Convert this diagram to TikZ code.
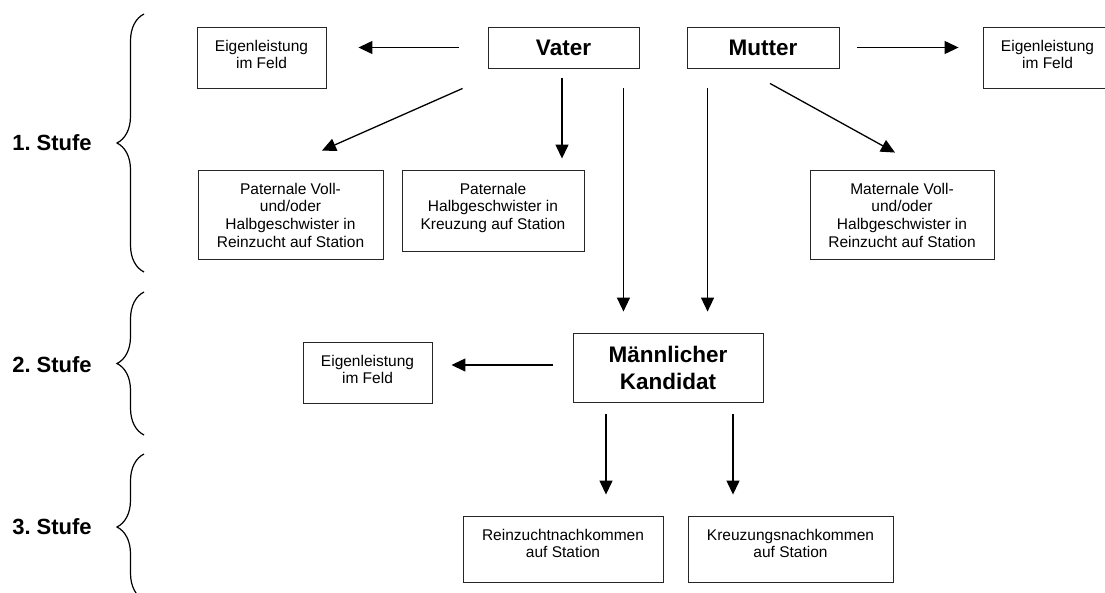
\documentclass[tikz,border=0pt]{standalone}
\usepackage{fontspec}
\setmainfont{Liberation Sans}
\usetikzlibrary{arrows.meta, calc, decorations.pathreplacing}
\frenchspacing

% text box, text hangs from the top edge
\newcommand{\toptext}[3]{\parbox[c][#2][t]{#1}{\centering\rule{0pt}{24pt}#3}}

\begin{document}
\begin{tikzpicture}[
  x=1pt, y=-1pt,
  small/.style ={rectangle, draw=black!85, line width=0.9pt, inner sep=0pt,
                 font=\fontsize{15.5}{17.7}\selectfont},
  big/.style   ={rectangle, draw=black!85, line width=0.9pt, align=center,
                 font=\fontsize{22.5}{27}\selectfont\bfseries},
  stage/.style ={font=\fontsize{22}{26}\selectfont\bfseries},
  arrow/.style ={-{Triangle[length=14pt, width=13pt]}, line width=1.3pt},
  curly/.style ={decorate, decoration={brace, amplitude=27pt}, line width=1.2pt},
]
  \useasboundingbox (0,0) rectangle (1105,592);

  % stages
  \node[stage] (s1) at (52,143) {1. Stufe};
  \node[stage] (s2) at (52,365) {2. Stufe};
  \node[stage] (s3) at (52,527) {3. Stufe};
  \coordinate (b1a) at (144,272); \coordinate (b1b) at (144,14);
  \coordinate (b2a) at (144,435); \coordinate (b2b) at (144,292);
  \coordinate (b3a) at (144,600); \coordinate (b3b) at (144,454);
  \draw[curly] (b1a) -- (b1b);
  \draw[curly] (b2a) -- (b2b);
  \draw[curly] (b3a) -- (b3b);

  % parents
  \node[big, minimum width=151pt, minimum height=41pt] (vater)  at (563.5,47.5) {Vater};
  \node[big, minimum width=152pt, minimum height=41pt] (mutter) at (763,47.5)   {Mutter};
  \node[small] (eigenA) at (261.5,57.5)  {\toptext{129pt}{61pt}{Eigenleistung\\im Feld}};
  \node[small] (eigenB) at (1047.5,57.5) {\toptext{129pt}{61pt}{Eigenleistung\\im Feld}};
  \node[small] (patV) at (290.5,214.5)
    {\toptext{185pt}{89pt}{Paternale Voll-\\und/oder\\Halbgeschwister in\\Reinzucht auf Station}};
  \node[small] (patH) at (493,210.5)
    {\toptext{182pt}{81pt}{Paternale\\Halbgeschwister in\\Kreuzung auf Station}};
  \node[small] (matV) at (902,214.5)
    {\toptext{184pt}{89pt}{Maternale Voll-\\und/oder\\Halbgeschwister in\\Reinzucht auf Station}};

  % candidate
  \node[big, minimum width=190pt, minimum height=69pt] (kand) at (668,367.5) {Männlicher\\Kandidat};
  \node[small] (eigenC) at (367.5,372.5) {\toptext{129pt}{61pt}{Eigenleistung\\im Feld}};

  % offspring
  \node[small] (reinN)  at (563,549)   {\toptext{200pt}{66pt}{Reinzuchtnachkommen\\auf Station}};
  \node[small] (kreuzN) at (790.5,549) {\toptext{205pt}{66pt}{Kreuzungsnachkommen\\auf Station}};

  \draw[arrow] ($(vater.west)+(-29,0)$) -- ($(vater.west -| eigenA.east)+(32,0)$);
  \draw[arrow] ($(vater.south west)+(-25,20)$) -- ($(patV.north)+(31.5,-19)$);
  \draw[arrow] ($(vater.south)+(-1.5,10)$) -- ($(vater.south |- patH.north)+(-1.5,-11)$);
  \draw[arrow] ($(vater.south east)+(-16,20)$) -- ($(vater.south east |- kand.north)+(-16,-21)$);
  \draw[arrow] ($(mutter.south west)+(21,20)$) -- ($(mutter.south west |- kand.north)+(21,-21)$);
  \draw[arrow] ($(mutter.east)+(18,0)$) -- ($(mutter.east -| eigenB.west)+(-24,0)$);
  \draw[arrow] ($(mutter.south)+(7,15)$) -- ($(matV.north)+(-7,-17)$);
  \draw[arrow] ($(kand.west)+(-20,-2.5)$) -- ($(kand.west -| eigenC.east)+(19,-2.5)$);
  \draw[arrow] ($(kand.south)+(-62,12)$) -- ($(kand.south |- reinN.north)+(-62,-21)$);
  \draw[arrow] ($(kand.south)+(65,12)$) -- ($(kand.south |- reinN.north)+(65,-21)$);
\end{tikzpicture}
\end{document}
